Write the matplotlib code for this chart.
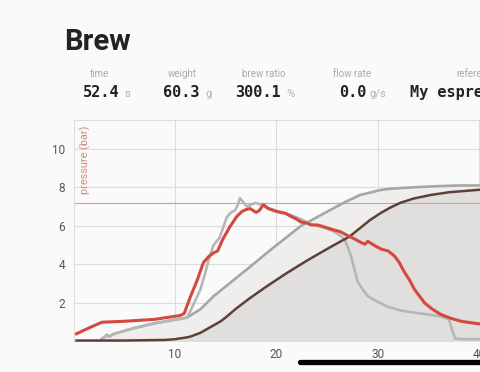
import matplotlib
matplotlib.use("Agg")
import matplotlib.pyplot as plt
from matplotlib.lines import Line2D

# ---- data ----
pressure_t = [0.3, 1.5, 2.8, 5, 8, 10.5, 10.9, 11.5, 12.2, 12.8, 13.3, 13.8, 14.2, 14.7, 15.4, 16.1, 16.6,
              17.0, 17.4, 18.0, 18.3, 18.7, 19.2, 20.0, 20.4, 20.9, 21.4, 22.0, 22.4, 23.0, 23.4, 24.0, 24.4,
              25.0, 25.6, 26.3, 27.0, 27.6, 28.3, 28.7, 29.0, 29.6, 30.3, 31.0, 31.6, 32.1, 32.6, 33.1, 33.6,
              34.1, 34.6, 35.3, 36.2, 37.2, 38.2, 39.2, 40.5]
pressure_v = [0.4, 0.7, 1.0, 1.05, 1.15, 1.35, 1.45, 2.3, 3.2, 4.1, 4.4, 4.6, 4.7, 5.3, 5.95, 6.5, 6.75,
              6.85, 6.9, 6.7, 6.8, 7.1, 6.9, 6.75, 6.7, 6.65, 6.5, 6.35, 6.2, 6.15, 6.05, 6.05, 6.0,
              5.9, 5.8, 5.7, 5.5, 5.35, 5.15, 5.05, 5.2, 5.0, 4.8, 4.7, 4.45, 4.1, 3.6, 3.2, 2.7,
              2.35, 2.0, 1.7, 1.4, 1.2, 1.05, 0.97, 0.88]

ref_pressure_t = [2.8, 3.0, 3.3, 3.5, 4, 6, 8, 10.8, 11.2, 11.8, 12.5, 13.0, 13.4, 13.8, 14.4, 15.1, 15.5,
                  15.9, 16.2, 16.4, 16.7, 17.1, 17.5, 17.9, 18.5, 19.1, 19.9, 20.7, 21.5, 22.4, 23.4, 24.7,
                  25.5, 26.0, 26.4, 26.8, 27.3, 27.7, 28.0, 28.5, 29.0, 30.0, 31.0, 32.3, 33.6, 35.0, 36.2,
                  37.0, 37.3, 37.6, 38.5, 40.5]
ref_pressure_v = [0.15, 0.2, 0.35, 0.25, 0.4, 0.7, 0.95, 1.2, 1.25, 1.9, 2.7, 3.6, 4.4, 5.0, 5.4, 6.45, 6.7,
                  6.8, 7.1, 7.45, 7.25, 7.0, 7.1, 7.2, 7.1, 6.95, 6.8, 6.7, 6.55, 6.35, 6.1, 5.9,
                  5.75, 5.6, 5.45, 5.2, 4.5, 3.7, 3.1, 2.7, 2.35, 2.05, 1.8, 1.6, 1.5, 1.4, 1.3,
                  1.15, 0.6, 0.15, 0.12, 0.12]

ref_weight_t = [2.8, 3.0, 3.3, 3.5, 4, 6, 8, 10.8, 11.2, 12.5, 13.8, 15.8, 17.4, 19.4, 22.4, 25.9, 27.0,
                28.2, 29.6, 30.2, 31.0, 32.3, 34.0, 35.6, 38.0, 40.5]
ref_weight_v = [0.15, 0.2, 0.35, 0.25, 0.4, 0.7, 0.95, 1.2, 1.25, 1.67, 2.35, 3.2, 3.88, 4.75, 6.0, 7.0, 7.3,
                7.6, 7.78, 7.86, 7.92, 7.97, 8.02, 8.06, 8.1, 8.1]

weight_t = [0.3, 5, 9, 10, 11, 11.5, 12, 12.5, 13, 13.5, 14, 14.5, 15, 16, 17.4, 19, 21, 23, 25.3, 27.2,
            29.2, 30.2, 31.2, 32.2, 33.5, 35.1, 37, 40.5]
weight_v = [0.05, 0.05, 0.08, 0.12, 0.2, 0.25, 0.35, 0.45, 0.6, 0.75, 0.9, 1.05, 1.25, 1.7, 2.26, 2.85,
            3.55, 4.2, 4.9, 5.45, 6.3, 6.65, 6.95, 7.2, 7.42, 7.6, 7.75, 7.9]

target_pressure = 7.2
y_ticks = [2, 4, 6, 8, 10]
x_ticks = [10, 20, 30, 40]

stat_labels = ["time", "weight", "brew ratio", "flow rate", "reference"]
stat_values = ["52.4", "60.3", "300.1", "0.0", "My espresso"]
stat_units = ["s", "g", "%", "g/s", ""]

# ---- figure ----
W, H = 480, 372
BG = "#fafafa"
fig = plt.figure(figsize=(W / 100, H / 100), dpi=100, facecolor=BG)

def px(x, y):
    return x / W, 1 - y / H

ax = fig.add_axes([73.5 / W, 1 - 341.5 / H, 1 - 73.5 / W, (341.5 - 120) / H], facecolor=BG)
ax.set_xlim(0, 40.05)
ax.set_ylim(0, 11.5)

ax.fill_between(ref_weight_t, ref_weight_v, 0, color="#efeeed", lw=0, zorder=1)
ax.fill_between(weight_t, weight_v, 0, color="#e1dfdd", lw=0, zorder=1.1)
ax.axhline(target_pressure, color="#dc9a90", lw=0.8, zorder=1.5)
ax.plot(ref_weight_t, ref_weight_v, color="#a6a6a6", lw=1.9, zorder=3)
ax.plot(ref_pressure_t, ref_pressure_v, color="#b6b6b6", lw=1.9, zorder=3.2)
ax.plot(weight_t, weight_v, color="#5d4037", lw=1.8, zorder=3.5)
ax.plot(pressure_t, pressure_v, color="#d4493f", lw=2.2, zorder=4)

ax.set_xticks(x_ticks)
ax.set_yticks(y_ticks)
ax.grid(True, color="#dcdcdc", lw=0.8, zorder=0)
ax.set_axisbelow(True)
ax.tick_params(length=0, labelsize=8.5, labelcolor="#555555", pad=5)
ax.tick_params(axis="y", pad=6)
for lab in ax.get_xticklabels() + ax.get_yticklabels():
    lab.set_family("Roboto")
for s in ["top", "left"]:
    ax.spines[s].set_color("#dddddd")
    ax.spines[s].set_linewidth(0.8)
for s in ["right", "bottom"]:
    ax.spines[s].set_visible(False)

ax.text(0.028, 0.975, "pressure (bar)", transform=ax.transAxes, rotation=90, ha="center", va="top",
        fontsize=7.8, color="#d08a80", family="Roboto")

# ---- header ----
fig.text(*px(64, 50), "Brew", fontsize=21, fontweight="bold", family="Roboto", color="#222222",
         va="baseline", ha="left")

label_x = [100, 182, 264, 352, 456]
label_ha = ["center", "center", "center", "center", "left"]
value_x = [83, 163, 235, 339, 410]
unit_x = [124, 205, 286, 369, 0]
for lab, lx, ha, val, vx, unit, ux in zip(stat_labels, label_x, label_ha, stat_values, value_x,
                                          stat_units, unit_x):
    fig.text(*px(lx, 74), lab, fontsize=7, color="#aaaaaa", family="Roboto", ha=ha, va="center")
    fig.text(*px(vx, 97), val, fontsize=11, fontweight="bold", family="DejaVu Sans Mono",
             color="#222222", ha="left", va="baseline")
    if unit:
        fig.text(*px(ux, 97), unit, fontsize=8, color="#b0b0b0", family="Roboto", ha="left",
                 va="baseline")

# home indicator
fig.add_artist(Line2D([300 / W, 1.05], [1 - 361.5 / H] * 2, transform=fig.transFigure, color="black",
                      lw=3.8, solid_capstyle="round"))

fig.savefig("out.png", dpi=100, facecolor=BG)
